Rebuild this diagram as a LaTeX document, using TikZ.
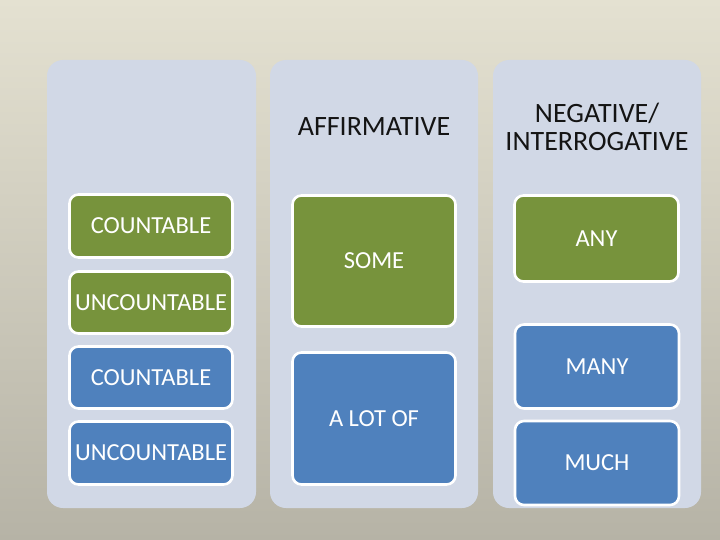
\documentclass[tikz,border=0pt]{standalone}
\usepackage{fontspec}
\setmainfont{Carlito}
\definecolor{bgtop}{RGB}{228,225,209}
\definecolor{bgbot}{RGB}{182,179,166}
\definecolor{colfill}{RGB}{209,216,230}
\definecolor{olive}{RGB}{119,147,60}
\definecolor{steel}{RGB}{79,129,189}
\definecolor{hdr}{RGB}{20,20,20}
\tikzset{
  column/.style={fill=colfill, rounded corners=16pt},
  box/.style={draw=white, line width=2.6pt, rounded corners=9pt, text=white,
    font=\fontsize{24.5}{28}\selectfont, inner sep=0pt, align=center},
  gbox/.style={box, fill=olive},
  bbox/.style={box, fill=steel},
  header/.style={text=hdr, font=\fontsize{28}{28}\selectfont, align=center},
}
\begin{document}
\begin{tikzpicture}[x=1pt,y=-1pt]
\useasboundingbox (0,0) rectangle (720,540);
\shade[top color=bgtop, bottom color=bgbot] (0,0) rectangle (720,540);
% columns
\fill[column] (47,60) rectangle (256,508);
\fill[column] (270,60) rectangle (478,508);
\fill[column] (493,60) rectangle (701,508);
% headers
\node[header] (aff) at (374,127) {AFFIRMATIVE};
\node[header] (neg) at (597,127) {NEGATIVE/\\INTERROGATIVE};
% column 1
\node[gbox, minimum width=163pt, minimum height=63pt] (c1) at (151,226) {COUNTABLE};
\node[gbox, minimum width=163pt, minimum height=62pt] (u1) at (151,302.5) {UNCOUNTABLE};
\node[bbox, minimum width=163pt, minimum height=62pt] (c2) at (151,377.5) {COUNTABLE};
\node[bbox, minimum width=163pt, minimum height=63pt] (u2) at (151,453) {UNCOUNTABLE};
% column 2
\node[gbox, minimum width=163pt, minimum height=131pt] (some) at (374,261) {SOME};
\node[bbox, minimum width=163pt, minimum height=132pt] (alot) at (374,418.5) {A LOT OF};
% column 3
\node[gbox, minimum width=164pt, minimum height=86pt] (any) at (596.5,238.5) {ANY};
\node[bbox, minimum width=164pt, minimum height=84pt] (many) at (597,366.5) {MANY};
\node[bbox, minimum width=164pt, minimum height=84pt] (much) at (597,463) {MUCH};
\end{tikzpicture}
\end{document}
